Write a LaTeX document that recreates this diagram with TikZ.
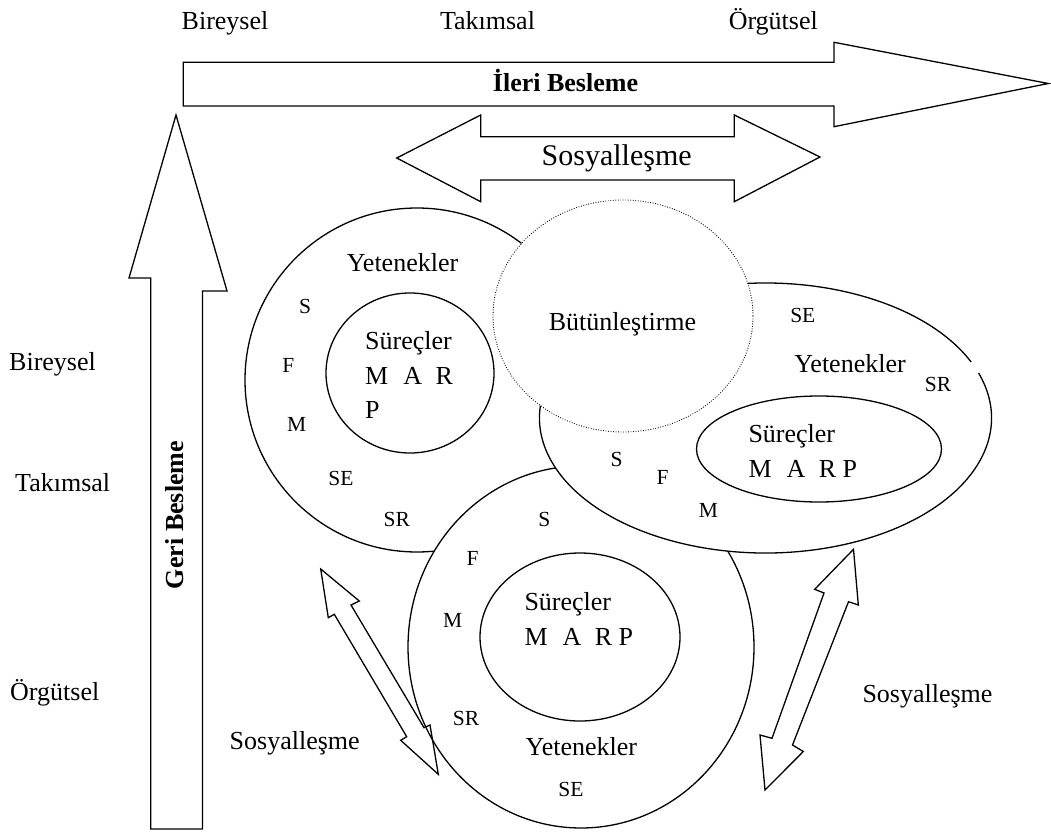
\documentclass[tikz,border=0pt]{standalone}
\usepackage{fontspec}
\setmainfont{Liberation Serif}
\begin{document}
\begin{tikzpicture}[x=1pt,y=-1pt,
  outline/.style={line width=1.3pt, line join=miter},
  blob/.style={outline, fill=white},
  dotline/.style={line width=0.9pt, dash pattern=on 0.8pt off 1.7pt, fill=white},
  big/.style={font=\fontsize{26}{30}\selectfont, inner sep=0pt, anchor=base},
  bigbold/.style={font=\fontsize{26}{30}\selectfont\bfseries, inner sep=0pt, anchor=base},
  huge/.style={font=\fontsize{30}{34}\selectfont, inner sep=0pt, anchor=base},
  small/.style={font=\fontsize{21.5}{25}\selectfont, inner sep=0pt, anchor=base},
  lines/.style={big, anchor=base west}
]
\useasboundingbox (0,0) rectangle (1051,834);

% feedback arrow (upwards)
\draw[outline] (176,115) -- (227,291) -- (202.5,291) -- (202.5,829)
  -- (150.7,829) -- (150.7,278) -- (129,278) -- cycle;

% feed-forward arrow (to the right)
\draw[outline] (183.3,62.3) -- (834,62.3) -- (834,42.3) -- (1048.3,83.5)
  -- (834,126.7) -- (834,106) -- (183.3,106) -- cycle;

% double arrow for socialisation (horizontal)
\draw[outline] (396.7,158) -- (480.7,115) -- (480.7,136.7) -- (734.3,136.7)
  -- (734.3,115) -- (820,157) -- (734.3,201.7) -- (734.3,180) -- (480.7,180)
  -- (480.7,201.7) -- cycle;

% individual level
\draw[blob] (417,380) circle[radius=172];
\draw[outline] (410,373) ellipse[x radius=84, y radius=80];

% organisational level
\draw[blob] (581,647) ellipse[x radius=173, y radius=181];
\draw[outline] (580,637) ellipse[x radius=100, y radius=84];

% team level (outline has a small break at the upper right)
\fill[white] (765.5,418) ellipse[x radius=226, y radius=135];
\draw[outline] (765.5,418) ++(-19.5:226 and 135)
  arc[start angle=-19.5, end angle=335.5, x radius=226, y radius=135];
\draw[outline] (819,449) ellipse[x radius=122.5, y radius=53];

% integration
\draw[dotline] (623,316) ellipse[x radius=130, y radius=116];

% diagonal double arrows
\draw[outline] (320.7,569) -- (359.3,601) -- (351,605) -- (424,727.7)
  -- (430,725) -- (438.3,774.3) -- (400.7,740.3) -- (406.7,736.7)
  -- (334.3,614.3) -- (328.3,617.7) -- cycle;
\draw[outline] (853.5,549.3) -- (858.3,605) -- (848.5,601.7) -- (792.5,745)
  -- (803.3,751.5) -- (765,790) -- (760,735) -- (772,738.3)
  -- (824,593) -- (814.7,589.3) -- cycle;

% level labels
\node[big] (topBir) at (225,29.5) {Bireysel};
\node[big] (topTak) at (487.5,29.5) {Takımsal};
\node[big] (topOrg) at (773.3,29.5) {Örgütsel};
\node[lines] (leftBir) at (9,370) {Bireysel};
\node[lines] (leftTak) at (15,491.5) {Takımsal};
\node[lines] (leftOrg) at (10,700) {Örgütsel};

% arrow labels
\node[bigbold] (ileri) at (565.5,91.5) {İleri Besleme};
\node[bigbold, rotate=90] (geri) at (183.3,515) {Geri Besleme};
\node[huge] (sosTop) at (616.7,165.5) {Sosyalleşme};
\node[big, anchor=base west] (sosLeft) at (229.5,749) {Sosyalleşme};
\node[big] (sosRight) at (927.5,702.7) {Sosyalleşme};

% individual circle texts
\node[big] (yetA) at (402.5,271) {Yetenekler};
\node[small] (sA) at (305,313.3) {S};
\node[small] (fA) at (288.3,372.7) {F};
\node[small] (mA) at (296.7,431.7) {M};
\node[small] (seA) at (341,485) {SE};
\node[small] (srA) at (396.7,526.7) {SR};
\node[lines] (surA) at (365,349) {Süreçler};
\node[lines] (marA) at (365,384.3) {M\hspace{15pt}A\hspace{13.5pt}R};
\node[lines] (pA) at (365,418.3) {P};

% integration text
\node[big] (butun) at (622.5,330) {Bütünleştirme};

% team ellipse texts
\node[small] (seB) at (802.8,322.3) {SE};
\node[big] (yetB) at (850,372.7) {Yetenekler};
\node[small] (srB) at (938,391.7) {SR};
\node[small] (sB) at (616.7,466) {S};
\node[small] (fB) at (662.7,484) {F};
\node[small] (mB) at (708.3,517.3) {M};
\node[lines] (surB) at (748.3,442.7) {Süreçler};
\node[lines] (marB) at (748.3,477.3) {M\hspace{15pt}A\hspace{13.5pt}R P};

% organisational circle texts
\node[small] (sC) at (544.3,526) {S};
\node[small] (fC) at (472.7,565) {F};
\node[small] (mC) at (452.7,627.3) {M};
\node[small] (srC) at (466,725) {SR};
\node[big] (yetC) at (581.3,755) {Yetenekler};
\node[small] (seC) at (571,796.7) {SE};
\node[lines] (surC) at (524.3,610) {Süreçler};
\node[lines] (marC) at (524.3,645) {M\hspace{15pt}A\hspace{13.5pt}R P};
\end{tikzpicture}
\end{document}
